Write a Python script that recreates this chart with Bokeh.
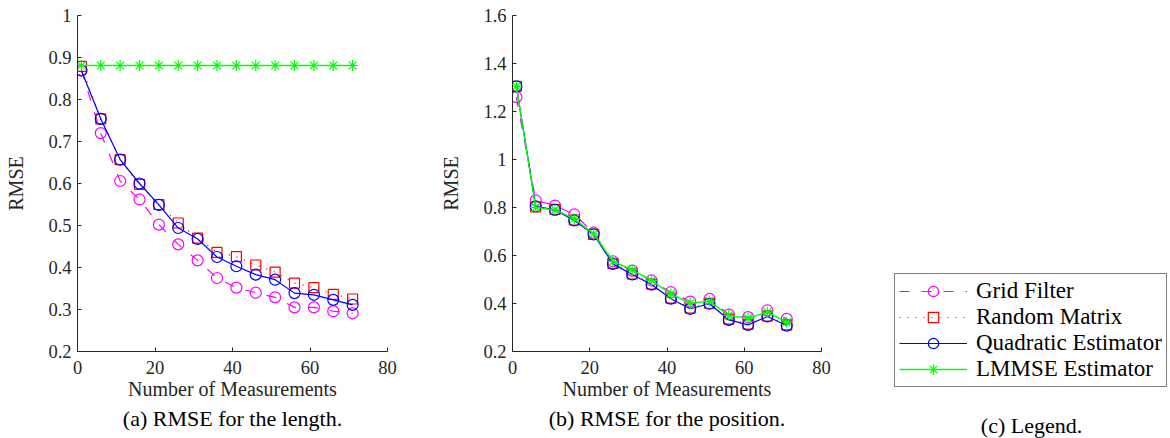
from bokeh.plotting import figure
from bokeh.layouts import row, column
from bokeh.models import (FixedTicker, CustomJSTickFormatter, Title, Legend,
                          LegendItem, ColumnDataSource, Range1d)
from bokeh.embed import file_html
from bokeh.resources import INLINE

# ---------------- data ----------------
measurements = [1, 6, 11, 16, 21, 26, 31, 36, 41, 46, 51, 56, 61, 66, 71]

series_names = ["Grid Filter", "Random Matrix", "Quadratic Estimator", "LMMSE Estimator"]

# (a) RMSE for the length
grid_length = [0.870, 0.720, 0.606, 0.562, 0.502, 0.455, 0.417, 0.375, 0.352, 0.340, 0.329, 0.305, 0.305, 0.296, 0.291]
random_length = [0.879, 0.754, 0.657, 0.598, 0.550, 0.506, 0.470, 0.436, 0.426, 0.406, 0.389, 0.363, 0.352, 0.336, 0.325]
quad_length = [0.869, 0.754, 0.657, 0.600, 0.549, 0.494, 0.468, 0.425, 0.403, 0.383, 0.371, 0.339, 0.335, 0.323, 0.311]
lmmse_length = [0.881, 0.881, 0.881, 0.881, 0.881, 0.881, 0.881, 0.881, 0.881, 0.881, 0.881, 0.881, 0.881, 0.881, 0.881]

# (b) RMSE for the position
grid_position = [1.260, 0.830, 0.808, 0.771, 0.695, 0.576, 0.537, 0.496, 0.447, 0.408, 0.419, 0.354, 0.343, 0.371, 0.336]
random_position = [1.305, 0.802, 0.792, 0.748, 0.688, 0.567, 0.523, 0.481, 0.422, 0.381, 0.401, 0.335, 0.314, 0.348, 0.311]
quad_position = [1.305, 0.805, 0.790, 0.746, 0.688, 0.565, 0.521, 0.479, 0.420, 0.378, 0.399, 0.332, 0.311, 0.346, 0.308]
lmmse_position = [1.305, 0.800, 0.790, 0.753, 0.690, 0.576, 0.540, 0.496, 0.440, 0.401, 0.410, 0.350, 0.339, 0.364, 0.322]

x_ticks = [0, 20, 40, 60, 80]
y_ticks_length = [0.2, 0.3, 0.4, 0.5, 0.6, 0.7, 0.8, 0.9, 1.0]
y_ticks_position = [0.2, 0.4, 0.6, 0.8, 1.0, 1.2, 1.4, 1.6]

x_label = "Number of Measurements"
y_label = "RMSE"
captions = ["(a) RMSE for the length.", "(b) RMSE for the position.", "(c) Legend."]

# ---------------- styles ----------------
FONT = "Liberation Serif"
styles = {
    "Grid Filter": dict(color="#ff00ff", dash="10 12", marker="circle", size=11, width=1.2),
    "Random Matrix": dict(color="#ff0000", dash="1 7", marker="square", size=10, width=1.2),
    "Quadratic Estimator": dict(color="#0000ff", dash="solid", marker="circle", size=11, width=1.2),
    "LMMSE Estimator": dict(color="#00ff00", dash="solid", marker="asterisk", size=11, width=1.4),
}

fmt = CustomJSTickFormatter(code="return Number(tick.toFixed(2)).toString();")

TOP, BOTTOM, HEIGHT = 15, 87, 438


def add_series(p, name, xs, ys):
    st = styles[name]
    src = ColumnDataSource(dict(x=xs, y=ys))
    lr = p.line("x", "y", source=src, line_color=st["color"], line_width=st["width"],
                line_dash=st["dash"])
    sr = p.scatter("x", "y", source=src, marker=st["marker"], size=st["size"],
                   line_color=st["color"], fill_color=None, line_width=1.2)
    return lr, sr


def caption_title(text):
    return Title(text=text, align="center", text_font=FONT, text_font_size="22px",
                 text_font_style="normal", text_color="black", standoff=2)


def make_panel(series, yticks, width, border_left, border_right, caption):
    p = figure(width=width, height=HEIGHT, output_backend="svg", toolbar_location=None,
               title=None, x_range=Range1d(0, 80), y_range=Range1d(yticks[0], yticks[-1]),
               min_border_left=border_left, min_border_right=border_right,
               min_border_top=TOP, min_border_bottom=BOTTOM)
    p.outline_line_color = None
    p.grid.visible = False
    p.background_fill_color = "white"
    for name, ys in zip(series_names, series):
        add_series(p, name, measurements, ys)
    p.xaxis.ticker = FixedTicker(ticks=x_ticks)
    p.yaxis.ticker = FixedTicker(ticks=yticks)
    p.yaxis.formatter = fmt
    p.xaxis.formatter = fmt
    for ax in (p.xaxis[0], p.yaxis[0]):
        ax.axis_line_color = "#262626"
        ax.axis_line_width = 1
        ax.major_tick_in = 4
        ax.major_tick_out = 0
        ax.major_tick_line_color = "#262626"
        ax.minor_tick_line_color = None
        ax.major_label_text_font = FONT
        ax.major_label_text_font_size = "18.5px"
        ax.major_label_text_color = "#262626"
        ax.axis_label_text_font = FONT
        ax.axis_label_text_font_size = "20px"
        ax.axis_label_text_font_style = "normal"
        ax.axis_label_text_color = "#262626"
    p.xaxis.axis_label = x_label
    p.yaxis.axis_label = y_label
    p.xaxis.major_label_standoff = 9
    p.xaxis.axis_label_standoff = 1
    p.yaxis.major_label_standoff = 6
    p.yaxis.axis_label_standoff = 18
    p.add_layout(caption_title(caption), "below")
    return p


p1 = make_panel([grid_length, random_length, quad_length, lmmse_length],
                y_ticks_length, 400, 77, 13, captions[0])
p2 = make_panel([grid_position, random_position, quad_position, lmmse_position],
                y_ticks_position, 440, 112, 19, captions[1])

# legend panel: sample renderers use the real data, kept outside the visible range
p3 = figure(width=330, height=HEIGHT, output_backend="svg", toolbar_location=None,
            title=None, x_range=Range1d(-2, -1), y_range=Range1d(0, 1),
            x_axis_type=None, y_axis_type=None,
            min_border_left=52, min_border_right=0, min_border_top=TOP,
            min_border_bottom=28)
p3.outline_line_color = None
p3.grid.visible = False
items = []
for name, ys in zip(series_names, [grid_length, random_length, quad_length, lmmse_length]):
    lr, sr = add_series(p3, name, measurements, ys)
    items.append(LegendItem(label=name, renderers=[lr, sr]))
leg = Legend(items=items, location=(2, 22), margin=0, padding=4, spacing=0,
             glyph_width=68, glyph_height=26, label_height=26, label_standoff=9,
             label_text_font=FONT, label_text_font_size="23px", label_text_color="black",
             border_line_color="black", border_line_width=1.2, background_fill_color="white",
             background_fill_alpha=1.0)
p3.add_layout(leg, "center")
p3.add_layout(caption_title(captions[2]), "below")

layout = row(p1, p2, column(p3, spacing=0), spacing=0)
open("out.html", "w").write(file_html(layout, INLINE))
